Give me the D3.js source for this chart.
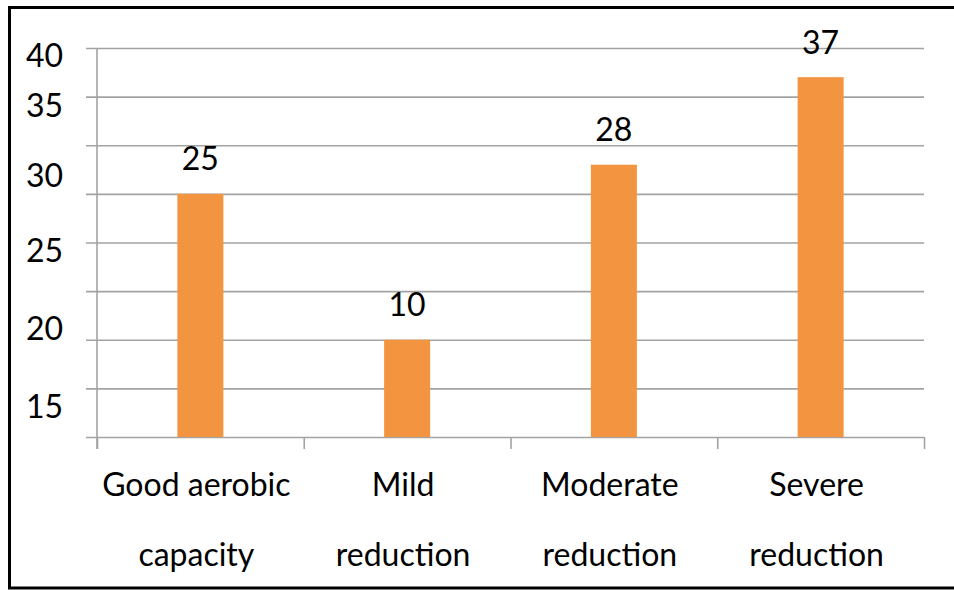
<!DOCTYPE html>
<html>
<head>
<meta charset="utf-8">
<script src="https://cdn.jsdelivr.net/npm/d3@7"></script>
<style>
  body { margin: 0; background: #fff; }
  svg { display: block; }
  text { font-family: Lato, "Open Sans", sans-serif; fill: #000; }
</style>
</head>
<body>
<svg id="chart" width="954" height="590"></svg>
<script>
// data
const categories = [
  ['Good aerobic', 'capacity'],
  ['Mild', 'reduction'],
  ['Moderate', 'reduction'],
  ['Severe', 'reduction'],
];
const values = [25, 10, 28, 37];
const gridValues = [0, 5, 10, 15, 20, 25, 30, 35, 40];
// the printed y labels do not sit on the gridlines; where each one sits, in gridline units
const yTickLabels = [40, 35, 30, 25, 20, 15];
const yTickAt = [39.2, 34.0, 26.8, 19.1, 11.1, 3.1];

const svg = d3.select('#chart'),
      margin = { top: 48, right: 30, bottom: 153, left: 97 },
      width = 954 - margin.left - margin.right,
      height = 590 - margin.top - margin.bottom,
      g = svg.append('g').attr('transform', `translate(${margin.left}, ${margin.top})`);

const fontSize = 32,
      gridColor = '#a3a3a3',
      barColor = '#f29440';

// outer frame (right edge runs off the picture)
svg.append('rect')
  .attr('x', 9.5)
  .attr('y', 7.5)
  .attr('width', 960)
  .attr('height', 580.5)
  .attr('fill', 'none')
  .attr('stroke', '#000')
  .attr('stroke-width', 3);

const x = d3.scaleBand()
  .domain(d3.range(categories.length))
  .range([0, width])
  .paddingInner(0)
  .paddingOuter(0);

const y = d3.scaleLinear()
  .domain([0, 40])
  .range([height, 0]);

// gridlines, sticking out 11px to the left of the axis
g.append('g')
  .attr('class', 'grid')
  .attr('transform', 'translate(-11, 0)')
  .call(d3.axisRight(y).tickValues(gridValues).tickSize(width + 11).tickFormat(''))
  .call((s) => s.select('.domain').remove())
  .call((s) => s.selectAll('line').attr('stroke', gridColor).attr('stroke-width', 1.6));

// vertical axis line
g.append('line')
  .attr('x1', 0).attr('x2', 0)
  .attr('y1', y(40)).attr('y2', height + 12)
  .attr('stroke', gridColor)
  .attr('stroke-width', 1.6);

// x axis with ticks at band boundaries
const bounds = d3.range(categories.length + 1).map((i) => i * x.step());
g.append('g')
  .attr('transform', `translate(0, ${height})`)
  .call(d3.axisBottom(d3.scaleIdentity()).tickValues(bounds).tickSize(12).tickSizeOuter(0).tickFormat(''))
  .call((s) => s.select('.domain').remove())
  .call((s) => s.selectAll('line').attr('stroke', gridColor).attr('stroke-width', 1.6));

// bars
const barWidth = 46;
g.append('g')
  .selectAll('rect')
  .data(values)
  .enter().append('rect')
  .attr('x', (d, i) => x(i) + x.bandwidth() / 2 - barWidth / 2)
  .attr('y', (d) => y(d))
  .attr('width', barWidth)
  .attr('height', (d) => height - y(d))
  .attr('fill', barColor);

// value labels
g.append('g')
  .selectAll('text')
  .data(values)
  .enter().append('text')
  .attr('x', (d, i) => x(i) + x.bandwidth() / 2)
  .attr('y', (d) => y(d) - 23.5)
  .attr('text-anchor', 'middle')
  .attr('font-size', fontSize)
  .text((d) => d);

// category labels on two lines
const catLabels = g.append('g')
  .selectAll('text')
  .data(categories)
  .enter().append('text')
  .attr('text-anchor', 'middle')
  .attr('font-size', fontSize);

catLabels.selectAll('tspan')
  .data((d, i) => d.map((t) => ({ t, i })))
  .enter().append('tspan')
  .attr('x', (d) => x(d.i) + x.bandwidth() / 2 - 4)
  .attr('y', (d, j) => height + 59 + j * 70)
  .text((d) => d.t);

// y tick labels
const labelY = d3.scaleLinear()
  .domain(yTickLabels)
  .range(yTickAt.map(y));

g.append('g')
  .attr('transform', 'translate(-34, 0)')
  .call(d3.axisLeft(labelY).tickValues(yTickLabels).tickSize(0).tickPadding(0))
  .call((s) => s.select('.domain').remove())
  .call((s) => s.selectAll('text')
    .attr('font-size', fontSize)
    .attr('font-family', 'Lato, "Open Sans", sans-serif')
    .attr('fill', '#000'));
</script>
</body>
</html>
